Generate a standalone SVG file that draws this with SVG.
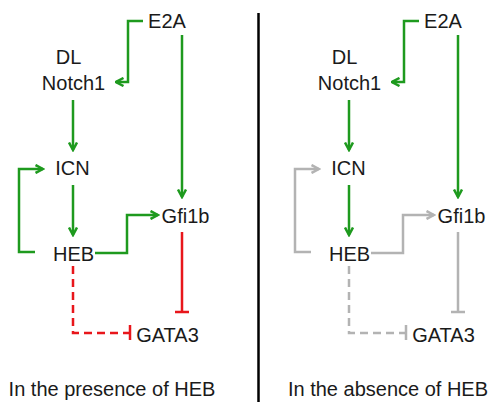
<svg xmlns="http://www.w3.org/2000/svg" width="490" height="402" viewBox="0 0 490 402">
<style>
text{font-family:"Liberation Sans",Arial,sans-serif;font-size:20px;fill:#1a1a1a;text-anchor:middle}
.g{fill:none;stroke:#1e9a1e;stroke-width:2.5}
.r{fill:none;stroke:#e8161b;stroke-width:2.5}
.y{fill:none;stroke:#b3b3b3;stroke-width:2.5}
.d{stroke-dasharray:8,5}
</style>
<defs>
<marker id="ag" viewBox="0 0 10 10" refX="8.5" refY="5" markerWidth="10" markerHeight="10" markerUnits="userSpaceOnUse" orient="auto">
<path d="M1,1 L8.5,5 L1,9" fill="none" stroke="#1e9a1e" stroke-width="2.5"/>
</marker>
<marker id="ay" viewBox="0 0 10 10" refX="8.5" refY="5" markerWidth="10" markerHeight="10" markerUnits="userSpaceOnUse" orient="auto">
<path d="M1,1 L8.5,5 L1,9" fill="none" stroke="#b3b3b3" stroke-width="2.5"/>
</marker>
</defs>
<rect width="490" height="402" fill="#fff"/>
<g id="connectors">
<path class="g" d="M143,21 H128 V82 H116" marker-end="url(#ag)"/>
<path class="g" d="M182,35 V197" marker-end="url(#ag)"/>
<path class="g" d="M73,100 V150" marker-end="url(#ag)"/>
<path class="g" d="M73,185 V235" marker-end="url(#ag)"/>
<path class="g" d="M35,252 H19 V169 H43" marker-end="url(#ag)"/>
<path class="g" d="M95,253 H127 V215 H158" marker-end="url(#ag)"/>
<path class="r" d="M182,232 V312 M175,312 H189"/>
<path class="r d" d="M73,266 V333 H130"/>
<path class="r" d="M130,325 V340"/>
<path class="g" d="M419,21 H404 V82 H392" marker-end="url(#ag)"/>
<path class="g" d="M458,35 V197" marker-end="url(#ag)"/>
<path class="g" d="M349,100 V150" marker-end="url(#ag)"/>
<path class="g" d="M349,185 V235" marker-end="url(#ag)"/>
<path class="y" d="M311,252 H295 V169 H319" marker-end="url(#ay)"/>
<path class="y" d="M371,253 H403 V215 H434" marker-end="url(#ay)"/>
<path class="y" d="M458,232 V312 M451,312 H465"/>
<path class="y d" d="M349,266 V333 H406"/>
<path class="y" d="M406,325 V340"/>
</g>
<line id="divider" x1="258.5" y1="13" x2="258.5" y2="402" stroke="#000" stroke-width="2.5"/>
<g id="left">
<g id="E2A-L"><text x="167" y="28">E2A</text></g>
<g id="DL-L"><text x="68.5" y="64">DL</text></g>
<g id="Notch1-L"><text x="73.5" y="90">Notch1</text></g>
<g id="ICN-L"><text x="72.5" y="175">ICN</text></g>
<g id="HEB-L"><text x="73.5" y="261">HEB</text></g>
<g id="Gfi1b-L"><text x="185.5" y="223">Gfi1b</text></g>
<g id="GATA3-L"><text x="167.5" y="342">GATA3</text></g>
<g id="caption-L"><text x="112" y="396">In the presence of HEB</text></g>
</g>
<g id="right">
<g id="E2A-R"><text x="443" y="28">E2A</text></g>
<g id="DL-R"><text x="344.5" y="64">DL</text></g>
<g id="Notch1-R"><text x="349.5" y="90">Notch1</text></g>
<g id="ICN-R"><text x="348.5" y="175">ICN</text></g>
<g id="HEB-R"><text x="349.5" y="261">HEB</text></g>
<g id="Gfi1b-R"><text x="461.5" y="223">Gfi1b</text></g>
<g id="GATA3-R"><text x="443.5" y="342">GATA3</text></g>
<g id="caption-R"><text x="388" y="396">In the absence of HEB</text></g>
</g>
</svg>
